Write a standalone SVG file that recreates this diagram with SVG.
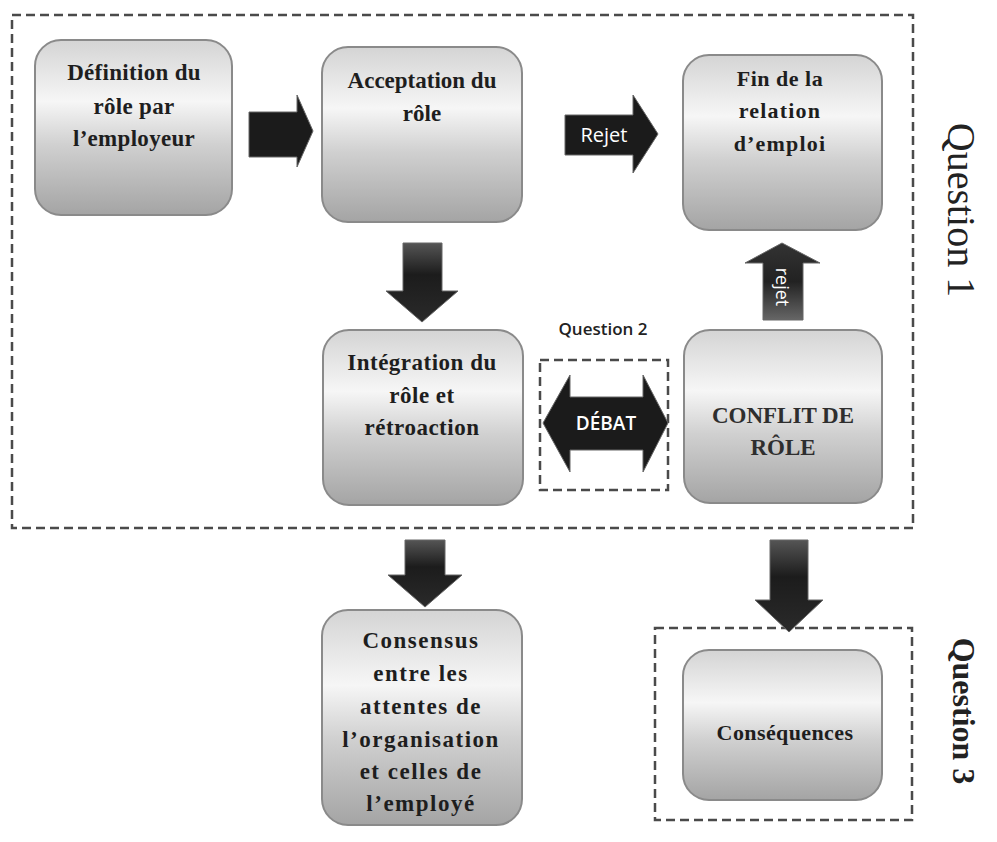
<svg xmlns="http://www.w3.org/2000/svg" width="997" height="842" viewBox="0 0 997 842">
  <defs>
    <linearGradient id="boxFill" x1="0" y1="0" x2="0" y2="1">
      <stop offset="0" stop-color="#d4d4d4"/>
      <stop offset="0.35" stop-color="#f6f6f6"/>
      <stop offset="0.6" stop-color="#d0d0d0"/>
      <stop offset="1" stop-color="#a4a4a4"/>
    </linearGradient>
    <linearGradient id="arrowV" x1="0" y1="0" x2="0" y2="1">
      <stop offset="0" stop-color="#555"/>
      <stop offset="0.4" stop-color="#1c1c1c"/>
      <stop offset="1" stop-color="#2a2a2a"/>
    </linearGradient>
    <linearGradient id="arrowUp" x1="0" y1="1" x2="0" y2="0">
      <stop offset="0" stop-color="#666"/>
      <stop offset="0.5" stop-color="#222"/>
      <stop offset="1" stop-color="#333"/>
    </linearGradient>
  </defs>
  <style>
    .box { fill: url(#boxFill); stroke: #8a8a8a; stroke-width: 2; }
    .frame { fill: none; stroke: #4a4a4a; stroke-width: 2.5; stroke-dasharray: 9 5; }
    .arrow { fill: #1b1b1b; stroke: #666; stroke-width: 1; }
    .lbl { font-family: "Liberation Serif", "DejaVu Serif", serif; font-size: 23px; font-weight: bold; fill: #1e1e1e; text-anchor: middle; }
    .lblR { font-family: "Liberation Serif", "DejaVu Serif", serif; font-size: 23px; fill: #2e2e2e; text-anchor: middle; font-weight: bold; }
    .wtxt { font-family: "Open Sans", "Liberation Sans", sans-serif; font-size: 20px; fill: #fff; text-anchor: middle; }
    .qtxt { font-family: "Liberation Serif", "DejaVu Serif", serif; fill: #222; text-anchor: middle; }
  </style>

  <!-- dashed frames -->
  <g id="frames">
    <rect class="frame" x="12" y="15" width="901" height="513"/>
    <rect class="frame" x="540" y="360" width="128" height="130"/>
    <rect class="frame" x="655" y="628" width="257" height="192"/>
  </g>

  <!-- connectors -->
  <g id="connectors">
    <!-- Définition -> Acceptation -->
    <path class="arrow" d="M249,112 H297 V95 L313,131 L297,167 V157 H249 Z"/>
    <!-- Rejet -->
    <path class="arrow" d="M565,115 H633 V95 L658,134 L633,173 V155 H565 Z"/>
    <text class="wtxt" x="604" y="142">Rejet</text>
    <!-- Acceptation -> Intégration -->
    <path class="arrow" style="fill:url(#arrowV)" d="M403,243 H442 V291 H458 L422,322 L386,291 H403 Z"/>
    <!-- rejet (up) -->
    <path class="arrow" style="fill:url(#arrowUp)" d="M763,320 V263 H745 L782,243 L820,263 H803 V320 Z"/>
    <text class="wtxt" transform="translate(776,287) rotate(90)" style="font-size:18px">rejet</text>
    <!-- DÉBAT (double) -->
    <path class="arrow" d="M543,423 L570,375 V397 H643 V375 L668,423 L643,472 V450 H570 V472 Z"/>
    <text class="wtxt" x="606" y="430" style="font-size:19px;font-weight:600">DÉBAT</text>
    <!-- Intégration -> Consensus -->
    <path class="arrow" style="fill:url(#arrowV)" d="M405,540 H445 V575 H462 L425,607 L388,575 H405 Z"/>
    <!-- Conflit -> Conséquences -->
    <path class="arrow" style="fill:url(#arrowV)" d="M770,540 H808 V600 H823 L789,632 L755,600 H770 Z"/>
  </g>

  <g id="n-definition">
    <rect class="box" x="35" y="40" width="197" height="175" rx="26"/>
    <text class="lbl" x="134" y="80" letter-spacing="0.3">Définition du</text>
    <text class="lbl" x="134" y="114" letter-spacing="0.3">rôle par</text>
    <text class="lbl" x="134" y="146" letter-spacing="0.3">l’employeur</text>
  </g>

  <g id="n-acceptation">
    <rect class="box" x="322" y="47" width="200" height="175" rx="26"/>
    <text class="lbl" x="422" y="88">Acceptation du</text>
    <text class="lbl" x="422" y="121">rôle</text>
  </g>

  <g id="n-fin">
    <rect class="box" x="683" y="55" width="199" height="175" rx="26"/>
    <text class="lbl" x="780" y="86" style="font-size:22px" letter-spacing="0.5">Fin de la</text>
    <text class="lbl" x="780" y="118" style="font-size:22px" letter-spacing="1.2">relation</text>
    <text class="lbl" x="780" y="151" style="font-size:22px" letter-spacing="1.2">d’emploi</text>
  </g>

  <g id="n-integration">
    <rect class="box" x="323" y="330" width="200" height="175" rx="26"/>
    <text class="lbl" x="422" y="370" letter-spacing="0.5">Intégration du</text>
    <text class="lbl" x="422" y="403" letter-spacing="0.5">rôle et</text>
    <text class="lbl" x="422" y="435" letter-spacing="0.5">rétroaction</text>
  </g>

  <g id="n-conflit">
    <rect class="box" x="684" y="330" width="198" height="173" rx="26"/>
    <text class="lblR" x="783" y="423">CONFLIT DE</text>
    <text class="lblR" x="783" y="455">RÔLE</text>
  </g>

  <g id="n-consensus">
    <rect class="box" x="322" y="610" width="200" height="215" rx="26"/>
    <text class="lbl" x="421" y="648" letter-spacing="1.5">Consensus</text>
    <text class="lbl" x="421" y="681" letter-spacing="1.5">entre les</text>
    <text class="lbl" x="421" y="714" letter-spacing="1.5">attentes de</text>
    <text class="lbl" x="421" y="747" letter-spacing="1.5">l’organisation</text>
    <text class="lbl" x="421" y="779" letter-spacing="1.5">et celles de</text>
    <text class="lbl" x="421" y="811" letter-spacing="1.5">l’employé</text>
  </g>

  <g id="n-consequences">
    <rect class="box" x="683" y="650" width="199" height="150" rx="26"/>
    <text class="lbl" x="785" y="740" style="font-size:22px" letter-spacing="0.4">Conséquences</text>
  </g>

  <!-- question labels -->
  <text class="qtxt" style="font-size:17px;font-family:'Open Sans','Liberation Sans',sans-serif;font-weight:600" x="603" y="335">Question 2</text>
  <text class="qtxt" style="font-size:40px" transform="translate(948,210) rotate(90)">Question 1</text>
  <text class="qtxt" style="font-size:32px;font-weight:bold" transform="translate(953,711) rotate(90)">Question 3</text>
</svg>
